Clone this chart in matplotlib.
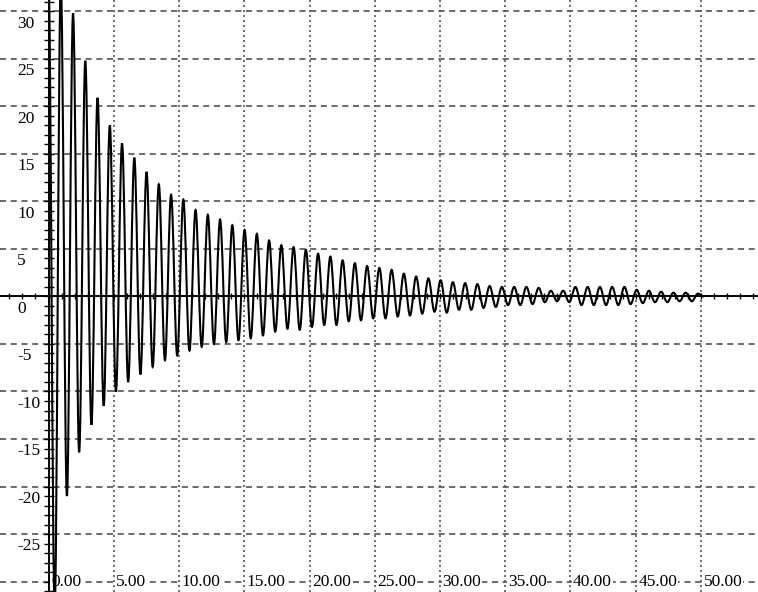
#!/usr/bin/env python3

import numpy as np
import matplotlib
matplotlib.use("Agg")
import matplotlib.pyplot as plt
from matplotlib.path import Path
from matplotlib.patches import PathPatch
from matplotlib.ticker import MultipleLocator
from matplotlib.transforms import offset_copy

# peak / trough values of each swing
period = 0.939
peaks = [33, 33, 29.8, 24.8, 20.9, 18.0, 16.1, 14.6, 13.1, 11.8, 10.7, 10.2,
         9.1, 8.6, 8.1, 7.5, 7.0, 6.6, 5.9, 5.4, 5.2, 4.9, 4.5, 4.2, 3.8, 3.5,
         3.2, 3.0, 2.8, 2.4, 2.1, 1.9, 1.7, 1.5, 1.4, 1.3, 1.1, 1.0, 1.0, 1.0,
         0.9, 0.6, 0.6, 1.0, 1.0, 1.0, 1.0, 1.0, 0.7, 0.6, 0.5, 0.4, 0.4, 0.3]
troughs = [-33, -21, -16.4, -13.5, -11.5, -10.0, -9.0, -8.2, -7.4, -6.7, -6.2,
           -5.7, -5.3, -5.0, -4.8, -4.6, -4.4, -4.1, -3.7, -3.4, -3.5, -3.2,
           -3.0, -3.0, -2.6, -2.5, -2.3, -2.3, -2.1, -2.0, -1.8, -1.6, -1.7,
           -1.4, -1.4, -1.2, -1.1, -0.9, -0.9, -0.8, -0.6, -0.5, -0.6, -0.9,
           -0.9, -0.9, -0.9, -0.8, -0.7, -0.6, -0.6, -0.5, -0.5, 0.0]

x_labels = ["0.00", "5.00", "10.00", "15.00", "20.00", "25.00",
            "30.00", "35.00", "40.00", "45.00", "50.00"]
x_label_pos = [0, 5, 10, 15, 20, 25, 30, 35, 40, 45, 50]
y_labels = ["30", "25", "20", "15", "10", "5", "0",
            "-5", "-10", "-15", "-20", "-25"]
y_label_pos = [30, 25, 20, 15, 10, 5, 0, -5, -10, -15, -20, -25]


def signal_path():
    y = []
    for p, t in zip(peaks, troughs):
        y += [p, t]
    x = np.arange(len(y)) * period / 2
    # smooth swings: bezier with flat tangents at each extreme
    h = period / 2 * 0.36
    verts = [(x[0], y[0])]
    codes = [Path.MOVETO]
    for i in range(1, len(y)):
        verts += [(x[i - 1] + h, y[i - 1]), (x[i] - h, y[i]), (x[i], y[i])]
        codes += [Path.CURVE4] * 3
    return Path(verts, codes)


def plot():
    plt.rcParams["font.family"] = ["Liberation Serif", "DejaVu Serif"]
    fig = plt.figure(figsize=(7.58, 5.92), dpi=100)
    ax = fig.add_axes([0, 0, 1, 1])
    ax.set_xlim(-3.72, 54.37)
    ax.set_ylim(-31.1, 31.2)

    for v in range(-30, 31, 5):
        if v != 0:
            ax.axhline(v, color="#444444", lw=1.1, ls=(0, (4, 3)), zorder=1)
    for v in range(5, 51, 5):
        ax.axvline(v, color="#555555", lw=1.2, ls=(0, (1.2, 1.8)), zorder=1)

    ax.add_patch(PathPatch(signal_path(), facecolor="none",
                           edgecolor="black", lw=1.5, zorder=6))

    for s in ["top", "right"]:
        ax.spines[s].set_visible(False)
    ax.spines["left"].set_position(("data", 0))
    ax.spines["bottom"].set_position(("data", 0))
    for s in ["left", "bottom"]:
        ax.spines[s].set_linewidth(1.4)
        ax.spines[s].set_zorder(7)
    ax.xaxis.set_major_locator(MultipleLocator(1))
    ax.yaxis.set_major_locator(MultipleLocator(1))
    ax.tick_params(axis="y", direction="inout", length=7, width=1,
                   labelleft=False)
    ax.tick_params(axis="x", direction="inout", length=5, width=1,
                   labelbottom=False)

    ylab = offset_copy(ax.transData, fig=fig, x=0, y=-3, units="points")
    for v, s in zip(y_label_pos, y_labels):
        ax.text(-2.4, v, s, transform=ylab, ha="left", va="top",
                fontsize=12.5, zorder=5)
    for v, s in zip(x_label_pos, x_labels):
        ax.text(v + 0.2, -30, s, ha="left", va="center", fontsize=12.5,
                zorder=5, bbox=dict(facecolor="white", edgecolor="none",
                                    pad=0.5))

    fig.savefig("out.png", dpi=100)
    plt.close()


def main():
    plot()


if __name__ == "__main__":
    main()
